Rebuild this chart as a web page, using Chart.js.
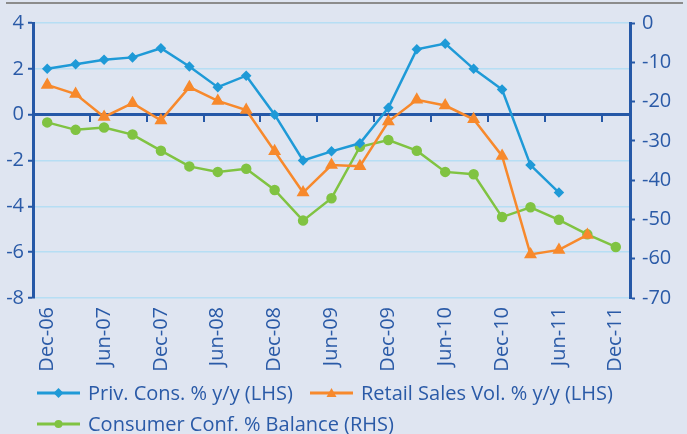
<!DOCTYPE html>
<html lang="en">
<head>
    <meta charset="UTF-8">
    <title>Consumption indicators</title>
    <script src="https://cdn.jsdelivr.net/npm/chart.js"></script>
    <style>
        body {
            margin: 0;
            background-color: #dfe5f1;
            font-family: "Open Sans", sans-serif;
        }
        .wrap {
            position: relative;
            width: 687px;
            height: 434px;
            overflow: hidden;
        }
        .topline {
            position: absolute;
            left: 6px;
            top: 2px;
            width: 677px;
            height: 2px;
            background: #8c8c8c;
        }
        .plot {
            position: absolute;
            left: 0;
            top: 0;
            width: 687px;
            height: 380px;
        }
        .legend {
            position: absolute;
            left: 37px;
            top: 379px;
            color: #2a5aa7;
            font-size: 20px;
        }
        .legend .item {
            position: absolute;
            white-space: nowrap;
            display: flex;
            align-items: center;
        }
        .legend svg {
            margin-right: 8px;
        }
    </style>
</head>
<body>
    <div class="wrap">
        <div class="topline"></div>
        <div class="plot"><canvas id="chart"></canvas></div>
        <div class="legend" id="legend"></div>
    </div>

    <script>
        // quarterly, Dec-06 .. Dec-11
        const periods = ['Dec-06', 'Mar-07', 'Jun-07', 'Sep-07', 'Dec-07', 'Mar-08', 'Jun-08', 'Sep-08',
                         'Dec-08', 'Mar-09', 'Jun-09', 'Sep-09', 'Dec-09', 'Mar-10', 'Jun-10', 'Sep-10',
                         'Dec-10', 'Mar-11', 'Jun-11', 'Sep-11', 'Dec-11'];

        const privCons = [2.0, 2.2, 2.4, 2.5, 2.9, 2.1, 1.2, 1.7, 0.0, -2.0, -1.6, -1.25, 0.3, 2.85, 3.1, 2.0,
                          1.1, -2.2, -3.4, null, null];
        const retailSales = [1.3, 0.9, -0.1, 0.5, -0.25, 1.2, 0.6, 0.2, -1.6, -3.4, -2.2, -2.25, -0.3, 0.65, 0.4, -0.2,
                             -1.8, -6.1, -5.9, -5.25, null];
        const consumerConf = [-25.3, -27.2, -26.6, -28.4, -32.5, -36.5, -37.9, -37.1, -42.5, -50.3, -44.6, -31.5,
                              -29.8, -32.5, -37.9, -38.5, -49.4, -46.9, -50.1, -53.8, -57.0];

        const seriesNames = ['Priv. Cons. % y/y (LHS)', 'Retail Sales Vol. % y/y (LHS)', 'Consumer Conf. % Balance (RHS)'];
        const seriesColors = ['#1f9ad7', '#f7892c', '#80c342'];

        const axisBlue = '#2558a7';
        const textBlue = '#2a5aa7';
        const gridBlue = '#b6def4';

        function lineSet(i, data, axis, pointStyle, radius) {
            return {
                label: seriesNames[i],
                data: data,
                yAxisID: axis,
                borderColor: seriesColors[i],
                backgroundColor: seriesColors[i],
                borderWidth: 2.5,
                pointStyle: pointStyle,
                pointRadius: radius,
                pointHoverRadius: radius,
                tension: 0,
                spanGaps: false
            };
        }

        const tickFont = { family: 'Open Sans', size: 20 };

        new Chart(document.getElementById('chart'), {
            type: 'line',
            data: {
                labels: periods,
                datasets: [
                    lineSet(0, privCons, 'y', 'rectRot', 3.5),
                    lineSet(1, retailSales, 'y', 'triangle', 5),
                    lineSet(2, consumerConf, 'y2', 'circle', 4)
                ]
            },
            options: {
                responsive: true,
                maintainAspectRatio: false,
                animation: false,
                layout: { padding: { top: 23, bottom: 5, left: 0, right: 0 } },
                plugins: {
                    legend: { display: false },
                    tooltip: { enabled: false }
                },
                scales: {
                    x: {
                        offset: true,
                        grid: { display: false, drawTicks: false },
                        border: { display: false },
                        ticks: {
                            color: textBlue,
                            font: tickFont,
                            autoSkip: false,
                            minRotation: 90,
                            maxRotation: 90,
                            padding: 9,
                            callback: function(value, index) {
                                return index % 2 === 0 ? this.getLabelForValue(value) : '';
                            }
                        },
                        afterFit: function(scale) { scale.height = 77; }
                    },
                    x2: {
                        type: 'category',
                        labels: periods,
                        offset: true,
                        position: { y: 0 },
                        grid: {
                            offset: true,
                            drawOnChartArea: false,
                            drawTicks: true,
                            tickLength: 6,
                            lineWidth: 2,
                            color: ctx => (ctx.index > 0 && ctx.index % 2 === 0) ? axisBlue : 'rgba(0,0,0,0)'
                        },
                        border: { display: true, color: axisBlue, width: 3 },
                        ticks: { display: false }
                    },
                    y: {
                        position: 'left',
                        min: -8,
                        max: 4,
                        ticks: { stepSize: 2, color: textBlue, font: tickFont, padding: 4 },
                        grid: { color: gridBlue, lineWidth: 1.5, tickColor: axisBlue, tickLength: 5, tickWidth: 2 },
                        border: { display: true, color: axisBlue, width: 3 },
                        afterFit: function(scale) { scale.width = 33; }
                    },
                    y2: {
                        position: 'right',
                        min: -70,
                        max: 0,
                        ticks: { stepSize: 10, color: textBlue, font: tickFont, padding: 7 },
                        grid: { drawOnChartArea: false, tickColor: axisBlue, tickLength: 5, tickWidth: 2 },
                        border: { display: true, color: axisBlue, width: 3 },
                        afterFit: function(scale) { scale.width = 57; }
                    }
                }
            }
        });

        // html legend
        const markers = [
            '<rect x="18" y="-3.5" width="7" height="7" transform="rotate(45 21.5 0)" />',
            '<polygon points="21.5,-5 26.5,4 16.5,4" />',
            '<circle cx="21.5" cy="0" r="4" />'
        ];
        const legendPos = [[0, 0], [273, 0], [0, 31]];
        const legend = document.getElementById('legend');
        seriesNames.forEach((name, i) => {
            const item = document.createElement('div');
            item.className = 'item';
            item.style.left = legendPos[i][0] + 'px';
            item.style.top = legendPos[i][1] + 'px';
            item.innerHTML =
                '<svg width="43" height="14" viewBox="0 -7 43 14" fill="' + seriesColors[i] + '">' +
                '<line x1="0" y1="0" x2="43" y2="0" stroke="' + seriesColors[i] + '" stroke-width="3" />' +
                markers[i] + '</svg><span>' + name + '</span>';
            legend.appendChild(item);
        });
    </script>
</body>
</html>
